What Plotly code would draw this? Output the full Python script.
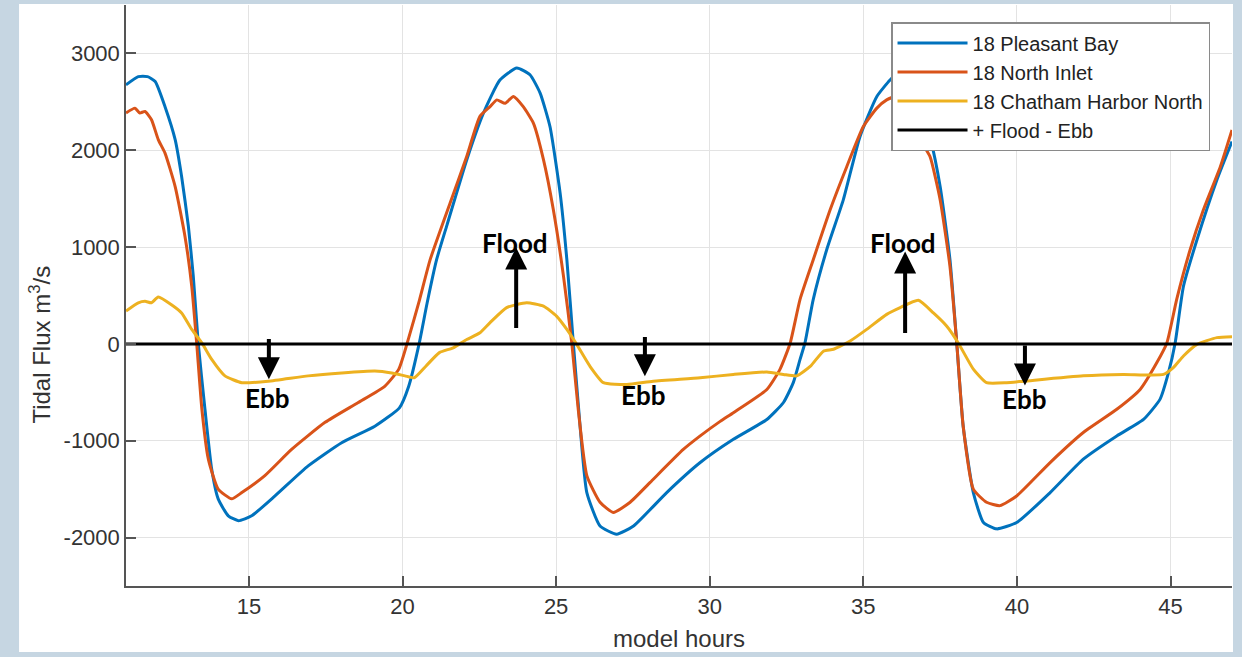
import plotly.graph_objects as go

# ---- data (model hours, tidal flux m^3/s) ----
pb_x = [11.0, 11.4, 11.7, 11.95, 12.27, 12.6, 12.81, 13.03, 13.19, 13.35, 13.57, 13.79, 14.0, 14.33, 14.66,
        15.09, 15.85, 16.93, 18.02, 19.1, 19.9, 20.2, 20.54, 20.8, 21.11, 21.45, 22.09, 22.63, 23.17, 23.72,
        24.15, 24.48, 24.8, 25.13, 25.35, 25.56, 25.78, 26.0, 26.43, 26.97, 27.52, 28.6, 29.69, 30.77, 31.86,
        32.4, 32.72, 32.94, 33.1, 33.37, 33.81, 34.35, 34.89, 35.44, 35.87, 36.35, 36.8, 37.17, 37.5, 37.82,
        38.04, 38.25, 38.58, 38.91, 39.34, 39.99, 41.08, 42.16, 43.25, 44.12, 44.66, 44.93, 45.15, 45.42,
        45.86, 46.51, 47.0]
pb_y = [2675, 2760, 2760, 2710, 2450, 2110, 1730, 1215, 700, 10, -675, -1295, -1600, -1775, -1825,
        -1775, -1570, -1260, -1020, -850, -660, -440, 0, 420, 870, 1230, 1900, 2380, 2725, 2850,
        2780, 2590, 2245, 1560, 870, 10, -850, -1535, -1880, -1965, -1880, -1535, -1225, -985, -780,
        -605, -400, -160, 10, 460, 975, 1490, 2140, 2555, 2725, 2860, 2550, 2140, 1625, 870,
        10, -850, -1535, -1845, -1910, -1845, -1535, -1190, -950, -780, -570, -300, 10, 595,
        1075, 1695, 2090]

ni_x = [11.0, 11.29, 11.45, 11.62, 11.83, 12.05, 12.27, 12.6, 12.92, 13.14, 13.3, 13.47, 13.68, 14.0, 14.44,
        14.77, 15.52, 16.39, 17.48, 18.56, 19.43, 19.88, 20.2, 20.55, 20.9, 21.55, 22.09, 22.52, 22.85,
        23.07, 23.34, 23.61, 23.93, 24.26, 24.59, 24.91, 25.24, 25.51, 25.72, 26.0, 26.43, 26.86, 27.41,
        28.06, 29.14, 29.69, 30.34, 30.77, 31.86, 32.29, 32.62, 32.94, 33.37, 33.92, 34.46, 35.0, 35.44,
        35.76, 36.1, 36.5, 36.85, 37.17, 37.5, 37.82, 38.04, 38.25, 38.58, 39.01, 39.45, 39.99, 41.08,
        42.16, 43.25, 44.01, 44.55, 44.88, 45.2, 45.64, 46.07, 46.62, 47.0]
ni_y = [2385, 2435, 2385, 2400, 2315, 2110, 1970, 1625, 1110, 595, 10, -675, -1190, -1500, -1600,
        -1535, -1360, -1090, -810, -605, -435, -260, 60, 450, 870, 1455, 1935, 2350, 2450,
        2520, 2485, 2555, 2450, 2280, 1900, 1385, 700, 10, -675, -1360, -1635, -1740, -1635,
        -1430, -1090, -950, -800, -710, -470, -260, 10, 460, 870, 1385, 1830, 2245, 2435,
        2520, 2560, 2450, 2110, 1935, 1490, 800, 10, -850, -1500, -1635, -1670, -1570, -1225,
        -915, -675, -470, -195, 10, 460, 975, 1385, 1830, 2210]

ch_x = [11.0, 11.4, 11.62, 11.83, 12.05, 12.48, 12.81, 13.14, 13.47, 13.79, 14.22, 14.77, 15.63, 16.93,
        18.02, 19.1, 19.65, 20.08, 20.38, 20.76, 21.2, 21.65, 22.09, 22.52, 22.85, 23.39, 24.04, 24.59,
        25.02, 25.35, 25.67, 26.1, 26.54, 27.3, 28.16, 29.69, 30.77, 31.86, 32.4, 32.83, 33.28, 33.7,
        34.03, 34.57, 35.11, 35.76, 36.2, 36.79, 37.28, 37.71, 38.09, 38.58, 39.01, 39.66, 40.21, 42.16,
        43.46, 44.77, 45.09, 45.42, 45.86, 46.51, 47.0]
ch_y = [340, 425, 440, 425, 485, 405, 320, 150, 10, -160, -330, -400, -385, -330,
        -300, -280, -300, -330, -350, -230, -90, -40, 45, 115, 220, 375, 425, 390,
        285, 150, -5, -230, -400, -420, -385, -350, -315, -290, -315, -330, -230, -75,
        -55, 30, 150, 305, 375, 450, 320, 185, 10, -260, -400, -400, -385, -330,
        -315, -315, -245, -125, -5, 65, 75]

zero_x = [11, 47]
zero_y = [0, 0]

names = ["18 Pleasant Bay", "18 North Inlet", "18 Chatham Harbor North", "+ Flood - Ebb"]
colors = ["#0072BD", "#D95319", "#EDB120", "#000000"]

x_ticks = [15, 20, 25, 30, 35, 40, 45]
y_ticks = [-2000, -1000, 0, 1000, 2000, 3000]
y_ticklabels = ["-2000", "-1000", "0", "1000", "2000", "3000"]

flood_marks = [(23.70, 150, 995), (36.36, 98, 954)]      # x, tail y, head y
flood_text = [(23.67, 1046), (36.30, 1046)]
ebb_marks = [(15.65, 67, -365), (27.89, 88, -335), (40.26, 0, -430)]
ebb_text = [(15.60, -560), (27.83, -528), (40.22, -572)]

fig = go.Figure()
series = [(pb_x, pb_y), (ni_x, ni_y), (ch_x, ch_y)]
for (xs, ys), nm, col in zip(series, names[:3], colors[:3]):
    fig.add_trace(go.Scatter(x=xs, y=ys, mode="lines", name=nm,
                             line=dict(color=col, width=3, shape="spline", smoothing=0.5)))
fig.add_trace(go.Scatter(x=zero_x, y=zero_y, mode="lines", name=names[3],
                         line=dict(color=colors[3], width=3)))

ann_font = dict(family="Lato", size=26, color="black")
anns = []
for (x, t, h) in flood_marks + ebb_marks:
    anns.append(dict(x=x, y=h, ax=x, ay=t, xref="x", yref="y", axref="x", ayref="y",
                     text="", showarrow=True, arrowhead=2, arrowsize=1.1, arrowwidth=4,
                     arrowcolor="black"))
for (x, y) in flood_text:
    anns.append(dict(x=x, y=y, xref="x", yref="y", text="<b>Flood</b>", showarrow=False,
                     font=ann_font))
for (x, y) in ebb_text:
    anns.append(dict(x=x, y=y, xref="x", yref="y", text="<b>Ebb</b>", showarrow=False,
                     font=ann_font))
# y-axis label placed as in the reference (slightly below the axis centre)
anns.append(dict(x=-0.078, y=-1.0 * 0 + 0.415, xref="paper", yref="paper", text="Tidal Flux m<sup>3</sup>/s",
                 textangle=-90, showarrow=False, xanchor="center", yanchor="middle",
                 font=dict(family="Liberation Sans, Arial", size=24, color="#333333")))

axis_common = dict(showline=True, linecolor="#555555", linewidth=1.5, ticks="inside", ticklen=10,
                   tickwidth=1.5, tickcolor="#555555", showgrid=True, gridcolor="#e3e3e3", gridwidth=1,
                   zeroline=False, mirror=False,
                   tickfont=dict(family="Liberation Sans, Arial", size=22, color="#333333"))

fig.update_layout(
    width=1242, height=657,
    margin=dict(l=126, r=10, t=5, b=71),
    paper_bgcolor="#c6d6e2",
    plot_bgcolor="white",
    font=dict(family="Liberation Sans, Arial", color="#333333"),
    xaxis=dict(range=[11, 47], tickvals=x_ticks,
               title=dict(text="model hours", font=dict(size=24, color="#333333"), standoff=12),
               **axis_common),
    yaxis=dict(range=[-2500, 3500], tickvals=y_ticks, ticktext=y_ticklabels, **axis_common),
    legend=dict(x=0.6917, y=0.9707, xanchor="left", yanchor="top", bgcolor="white",
                bordercolor="#8a8a8a", borderwidth=1.5, font=dict(size=20, color="#222222"),
                itemwidth=70, tracegroupgap=0),
    annotations=anns,
    shapes=[dict(type="rect", xref="paper", yref="paper", x0=-0.0967, x1=1.0009, y0=-0.1136, y1=1.0017,
                 fillcolor="white", line=dict(width=0), layer="below")],
)

fig.write_html("out.html", config={"displayModeBar": False},
               post_script="document.body.style.margin='0';")
